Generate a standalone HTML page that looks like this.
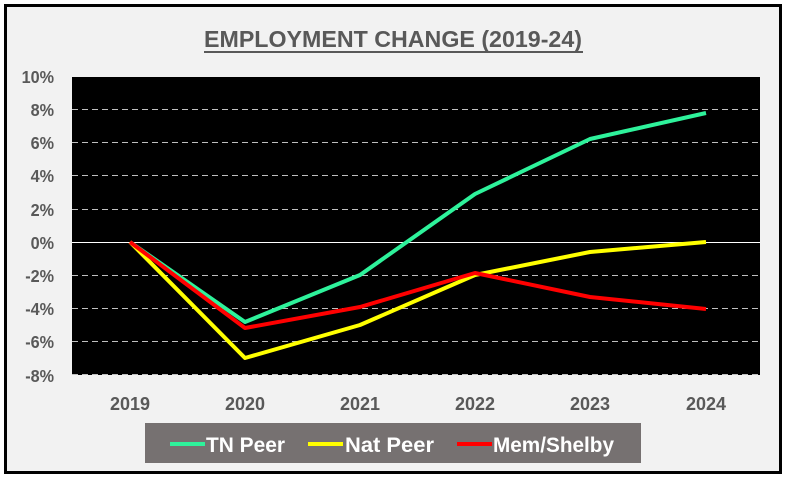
<!DOCTYPE html><html><head><style>body{margin:0;background:#fff}svg{display:block}</style></head><body>
<svg width="786" height="477" xmlns="http://www.w3.org/2000/svg" font-family="Liberation Sans, sans-serif" font-weight="bold">
<rect x="0" y="0" width="786" height="477" fill="#fff"/>
<rect x="5.5" y="5.5" width="775" height="467" fill="#f2f2f2" stroke="#000" stroke-width="3"/>
<text x="393" y="47" text-anchor="middle" font-size="23" fill="#595959" textLength="378" lengthAdjust="spacingAndGlyphs">EMPLOYMENT CHANGE (2019-24)</text>
<rect x="204" y="51" width="379" height="2" fill="#595959"/>
<rect x="72" y="77" width="688" height="298" fill="#000"/>
<g stroke="#bfbfbf" stroke-width="1" stroke-dasharray="6,4">
<line x1="72" x2="760" y1="109.5" y2="109.5"/><line x1="72" x2="760" y1="142.5" y2="142.5"/><line x1="72" x2="760" y1="175.5" y2="175.5"/><line x1="72" x2="760" y1="209.5" y2="209.5"/><line x1="72" x2="760" y1="275.5" y2="275.5"/><line x1="72" x2="760" y1="308.5" y2="308.5"/><line x1="72" x2="760" y1="341.5" y2="341.5"/><line x1="72" x2="760" y1="374.5" y2="374.5"/>
</g>
<line x1="72" x2="760" y1="242.5" y2="242.5" stroke="#fff" stroke-width="1"/>
<g font-size="18" fill="#595959" text-anchor="end" transform="scale(0.9,1)">
<text x="60" y="83">10%</text><text x="60" y="116">8%</text><text x="60" y="149">6%</text><text x="60" y="182">4%</text><text x="60" y="216">2%</text><text x="60" y="249">0%</text><text x="60" y="282">-2%</text><text x="60" y="315">-4%</text><text x="60" y="348">-6%</text><text x="60" y="382">-8%</text>
</g>
<g font-size="18" fill="#595959" text-anchor="middle">
<text x="130" y="410" textLength="40" lengthAdjust="spacingAndGlyphs">2019</text><text x="245" y="410" textLength="40" lengthAdjust="spacingAndGlyphs">2020</text><text x="360" y="410" textLength="40" lengthAdjust="spacingAndGlyphs">2021</text><text x="475" y="410" textLength="40" lengthAdjust="spacingAndGlyphs">2022</text><text x="590" y="410" textLength="40" lengthAdjust="spacingAndGlyphs">2023</text><text x="706" y="410" textLength="40" lengthAdjust="spacingAndGlyphs">2024</text>
</g>
<g fill="none" stroke-width="4" stroke-linejoin="round">
<polyline stroke="#2ef29b" points="130,242 245,322 360,275 475,194 590,139 706,113"/>
<polyline stroke="#ffff00" points="130,242 245,358 360,325 475,275 590,252 706,242"/>
<polyline stroke="#ff0000" points="130,242 245,328 360,307 475,273 590,297 706,309"/>
</g>
<rect x="145" y="423" width="496" height="40" fill="#767171"/>
<g stroke-width="4"><line x1="170" x2="205" y1="444" y2="444" stroke="#2ef29b"/><line x1="308" x2="343" y1="444" y2="444" stroke="#ffff00"/><line x1="457" x2="492" y1="444" y2="444" stroke="#ff0000"/></g>
<g font-size="21" fill="#fff">
<text x="206" y="452" textLength="79" lengthAdjust="spacingAndGlyphs">TN Peer</text><text x="345" y="452" textLength="89" lengthAdjust="spacingAndGlyphs">Nat Peer</text><text x="493" y="452" textLength="121" lengthAdjust="spacingAndGlyphs">Mem/Shelby</text>
</g>
</svg></body></html>
